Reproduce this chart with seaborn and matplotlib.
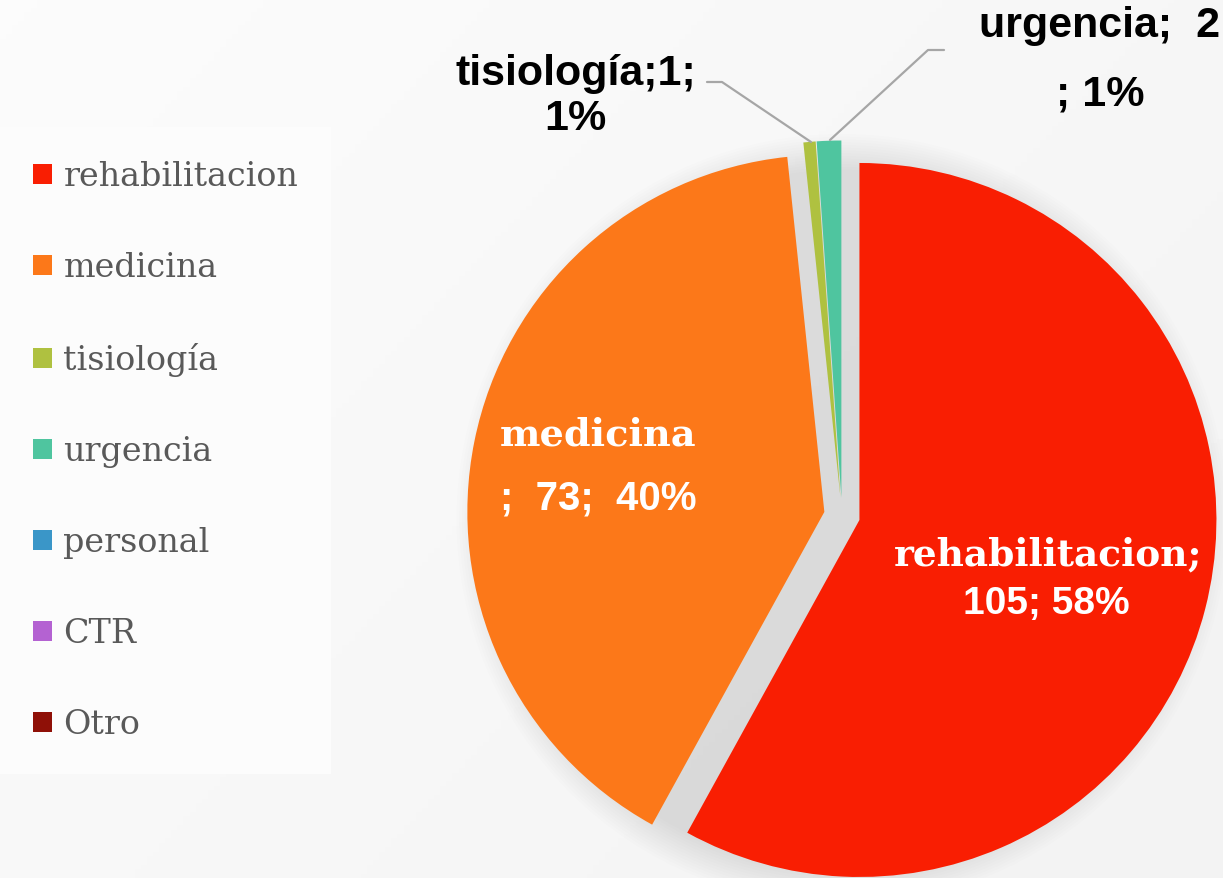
import numpy as np
import matplotlib
matplotlib.use("Agg")
import matplotlib.pyplot as plt
from matplotlib.patches import Circle
import seaborn as sns

# ---- data ----
categories = ["rehabilitacion", "medicina", "tisiología", "urgencia", "personal", "CTR", "Otro"]
counts = [105, 73, 1, 2, 0, 0, 0]
percent_labels = ["58%", "40%", "1%", "1%", "0%", "0%", "0%"]
colors_hex = ["#F91E02", "#FC7819", "#AFC140", "#4FC59F", "#3A96C8", "#B462D2", "#8F1007"]

sns.set_theme(style="white")
plt.rcParams["font.family"] = ["DejaVu Serif", "DejaVu Sans"]
palette = sns.color_palette(colors_hex)

W, H = 1223, 879
fig = plt.figure(figsize=(W / 100, H / 100), dpi=100)
fig.patch.set_facecolor("#f8f8f8")
ax = fig.add_axes([0, 0, 1, 1])
ax.set_xlim(0, W)
ax.set_ylim(0, H)
ax.axis("off")

# subtle background gradient
gx = np.linspace(0, 1, 200)
gy = np.linspace(0, 1, 200)
GX, GY = np.meshgrid(gx, gy)
grad = 0.985 - 0.035 * (0.6 * GX + 0.4 * (1 - GY))
ax.imshow(grad, extent=(0, W, 0, H), origin="lower", cmap="gray", vmin=0, vmax=1,
          zorder=0, aspect="auto")

cx, cy, R = 842, H - 516.5, 357
# soft shadow around the pie
for r in np.linspace(R * 0.98, R * 1.08, 14):
    ax.add_patch(Circle((cx, cy - 4), r, color="black", alpha=0.009, lw=0, zorder=1))

wedges, _ = ax.pie(counts, colors=palette, startangle=90, counterclock=False,
                   explode=[18] * len(counts), radius=R, center=(cx, cy),
                   wedgeprops=dict(linewidth=0), frame=True)
for w in wedges:
    w.set_zorder(2)
ax.set_xlim(0, W)
ax.set_ylim(0, H)
ax.set_aspect("equal")
ax.axis("off")

slab = dict(family=["DejaVu Serif"], weight="bold")
sans = dict(family=["Liberation Sans", "DejaVu Sans"], weight="bold")

# medicina label
ax.text(500, H - 445, categories[1], color="white", fontsize=27.5, ha="left", va="baseline", zorder=5, **slab)
ax.text(500, H - 510, f";  {counts[1]};  {percent_labels[1]}", color="white", fontsize=29,
        ha="left", va="baseline", zorder=5, **sans)
# rehabilitacion label
ax.text(1048, H - 565, categories[0] + ";", color="white", fontsize=27, ha="center", va="baseline", zorder=5, **slab)
ax.text(1046, H - 614, f"{counts[0]}; {percent_labels[0]}", color="white", fontsize=28,
        ha="center", va="baseline", zorder=5, **sans)
# tisiología label
ax.text(576, H - 85, f"{categories[2]};{counts[2]};", color="black", fontsize=31,
        ha="center", va="baseline", zorder=5, **sans)
ax.text(575, H - 130, percent_labels[2], color="black", fontsize=31,
        ha="center", va="baseline", zorder=5, **sans)
# urgencia label
ax.text(1100, H - 37, f"{categories[3]};  {counts[3]}", color="black", fontsize=31,
        ha="center", va="baseline", zorder=5, **sans)
ax.text(1100, H - 105, f"; {percent_labels[3]}", color="black", fontsize=31,
        ha="center", va="baseline", zorder=5, **sans)

# leader lines
ax.plot([707, 722, 811], [H - 83, H - 83, H - 143], color="#a6a6a6", lw=1.6, zorder=4)
ax.plot([944, 928, 830], [H - 51, H - 51, H - 141], color="#a6a6a6", lw=1.6, zorder=4)

# legend
leg = ax.legend(wedges, categories, loc="upper left",
                bbox_to_anchor=(0, (H - 128) / H), bbox_transform=fig.transFigure,
                borderaxespad=0, frameon=True, fancybox=False, framealpha=1,
                facecolor="#fcfcfc", edgecolor="none",
                prop=dict(family="DejaVu Serif", size=24), labelcolor="#595959",
                handlelength=0.55, handleheight=0.55, handletextpad=0.35,
                labelspacing=1.77, borderpad=1.0)
leg.set_zorder(6)

fig.savefig("out.png", dpi=100, facecolor=fig.get_facecolor())
